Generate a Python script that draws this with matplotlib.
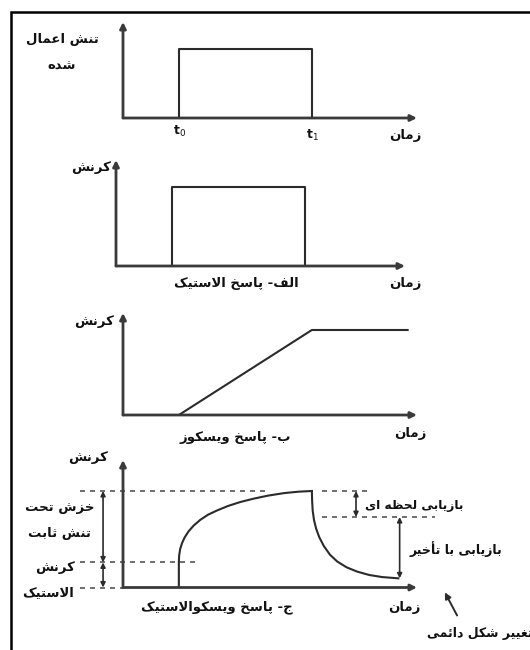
import matplotlib
matplotlib.use("Agg")
import matplotlib.pyplot as plt

# --- data (schematic units: time, normalised stress / strain) ---
t0, t1 = 2.1, 7.1
t_end = 10.7

stress_t = [t0, t0, t1, t1]
stress_v = [0, 1, 1, 0]

elastic_t = [t0, t0, t1, t1]
elastic_s = [0, 1, 1, 0]

viscous_t = [t0, t1, t_end]
viscous_s = [0, 1, 1]

# viscoelastic: creep while loaded, recovery after unloading
creep_t = [2.1, 2.1, 2.11, 2.15, 2.22, 2.32, 2.46, 2.65, 2.9, 3.2, 3.55,
           3.95, 4.4, 4.9, 5.45, 6.05, 6.6, 7.1]
creep_s = [0, 0.26, 0.33, 0.40, 0.46, 0.52, 0.58, 0.64, 0.70, 0.755, 0.80,
           0.845, 0.885, 0.92, 0.952, 0.978, 0.993, 1.0]
rec_t = [7.1, 7.11, 7.13, 7.18, 7.26, 7.38, 7.55, 7.78, 8.05, 8.4, 8.8,
         9.25, 9.75, 10.35]
rec_s = [1.0, 0.90, 0.80, 0.70, 0.61, 0.52, 0.43, 0.34, 0.27, 0.21, 0.165,
         0.13, 0.108, 0.095]

elastic_level = 0.26
peak_level = 1.0
recovered_level = 0.73
permanent_level = 0.095

# --- crude persian shaping (matplotlib has no complex text layout) ---
FORMS = {
    'ا': (0xFE8D, 0xFE8E, None, None),
    'أ': (0xFE83, 0xFE84, None, None),
    'ب': (0xFE8F, 0xFE90, 0xFE91, 0xFE92),
    'پ': (0xFB56, 0xFB57, 0xFB58, 0xFB59),
    'ت': (0xFE95, 0xFE96, 0xFE97, 0xFE98),
    'ث': (0xFE99, 0xFE9A, 0xFE9B, 0xFE9C),
    'ج': (0xFE9D, 0xFE9E, 0xFE9F, 0xFEA0),
    'ح': (0xFEA1, 0xFEA2, 0xFEA3, 0xFEA4),
    'خ': (0xFEA5, 0xFEA6, 0xFEA7, 0xFEA8),
    'د': (0xFEA9, 0xFEAA, None, None),
    'ر': (0xFEAD, 0xFEAE, None, None),
    'ز': (0xFEAF, 0xFEB0, None, None),
    'س': (0xFEB1, 0xFEB2, 0xFEB3, 0xFEB4),
    'ش': (0xFEB5, 0xFEB6, 0xFEB7, 0xFEB8),
    'ظ': (0xFEC5, 0xFEC6, 0xFEC7, 0xFEC8),
    'ع': (0xFEC9, 0xFECA, 0xFECB, 0xFECC),
    'غ': (0xFECD, 0xFECE, 0xFECF, 0xFED0),
    'ف': (0xFED1, 0xFED2, 0xFED3, 0xFED4),
    'ک': (0xFB8E, 0xFB8F, 0xFB90, 0xFB91),
    'ل': (0xFEDD, 0xFEDE, 0xFEDF, 0xFEE0),
    'م': (0xFEE1, 0xFEE2, 0xFEE3, 0xFEE4),
    'ن': (0xFEE5, 0xFEE6, 0xFEE7, 0xFEE8),
    'ه': (0xFEE9, 0xFEEA, 0xFEEB, 0xFEEC),
    'و': (0xFEED, 0xFEEE, None, None),
    'ی': (0xFBFC, 0xFBFD, 0xFBFE, 0xFBFF),
    'ئ': (0xFE89, 0xFE8A, 0xFE8B, 0xFE8C),
}
LAM_ALEF = {'ا': (0xFEFB, 0xFEFC), 'أ': (0xFEF7, 0xFEF8)}


def joins_fwd(c):
    return c in FORMS and FORMS[c][2] is not None


def fa(s):
    res = []
    i = 0
    while i < len(s):
        c = s[i]
        prev = s[i - 1] if i > 0 else None
        if c not in FORMS:
            res.append(c)
            i += 1
            continue
        if c == 'ل' and i + 1 < len(s) and s[i + 1] in LAM_ALEF:
            lig = LAM_ALEF[s[i + 1]]
            res.append(chr(lig[1] if joins_fwd(prev) else lig[0]))
            i += 2
            continue
        nxt = s[i + 1] if i + 1 < len(s) else None
        p = joins_fwd(prev)
        q = FORMS[c][2] is not None and nxt in FORMS
        iso, fin, ini, med = FORMS[c]
        g = med if (p and q) else fin if p else ini if q else iso
        res.append(chr(g))
        i += 1
    return ''.join(reversed(res))


W, H = 530, 650
PX = 26.6  # pixels per time unit
INK = '#2b2b2b'

fig = plt.figure(figsize=(5.3, 6.5), dpi=100)


def box(left, top, right, bottom):
    return [left / W, 1 - bottom / H, (right - left) / W, (bottom - top) / H]


def txt(x, y, s, size=9.5, ha='center', **kw):
    fig.text(x / W, 1 - y / H, s, ha=ha, va='center', fontsize=size,
             fontweight='bold', color='#111111', family='DejaVu Sans', **kw)


def arrow_axes(ax):
    x1, y1 = ax.get_xlim()[1], ax.get_ylim()[1]
    for end in [(x1, 0), (0, y1)]:
        ax.annotate('', xy=end, xytext=(0, 0), annotation_clip=False,
                    arrowprops=dict(arrowstyle='-|>', lw=2.0, color='#3a3a3a',
                                    mutation_scale=9, shrinkA=0, shrinkB=0))
    ax.set_axis_off()


def dbl(ax, x, ya, yb):
    ax.annotate('', xy=(x, yb), xytext=(x, ya), annotation_clip=False,
                arrowprops=dict(arrowstyle='<|-|>', lw=1.2, color=INK,
                                mutation_scale=7, shrinkA=0, shrinkB=0))


# (a) applied stress
ax1 = fig.add_axes(box(123, 22, 417, 118))
ax1.set_xlim(0, 294 / PX)
ax1.set_ylim(0, 96 / 69)
ax1.plot(stress_t, stress_v, color=INK, lw=1.5)
arrow_axes(ax1)

# (b) elastic
ax2 = fig.add_axes(box(116, 160, 405, 266))
ax2.set_xlim(0, 289 / PX)
ax2.set_ylim(0, 106 / 79)
ax2.plot(elastic_t, elastic_s, color=INK, lw=1.5)
arrow_axes(ax2)

# (c) viscous
ax3 = fig.add_axes(box(123, 313, 417, 415))
ax3.set_xlim(0, 294 / PX)
ax3.set_ylim(0, 102 / 85)
ax3.plot(viscous_t, viscous_s, color=INK, lw=1.5)
arrow_axes(ax3)

# (d) viscoelastic
ax4 = fig.add_axes(box(123, 460, 417, 587.5))
ax4.set_xlim(0, 294 / PX)
ax4.set_ylim(0, 127.5 / 96.5)
ax4.plot(creep_t, creep_s, color=INK, lw=1.5)
ax4.plot(rec_t, rec_s, color=INK, lw=1.5)
arrow_axes(ax4)

dash = dict(color='#555555', lw=1.2, ls=(0, (3, 3)), clip_on=False)
ax4.plot([-1.62, 5.35], [peak_level] * 2, **dash)
ax4.plot([7.48, 9.17], [peak_level] * 2, **dash)
ax4.plot([7.48, 11.73], [recovered_level] * 2, **dash)
ax4.plot([-1.62, 2.9], [elastic_level] * 2, **dash)
ax4.plot([-1.62, 0], [0, 0], **dash)

dbl(ax4, -0.75, 0, elastic_level)
dbl(ax4, -0.75, elastic_level, peak_level)
dbl(ax4, 8.76, recovered_level, peak_level)
dbl(ax4, 10.4, permanent_level, recovered_level)
ax4.annotate('', xy=(12.1, -0.05), xytext=(12.56, -0.29), annotation_clip=False,
             arrowprops=dict(arrowstyle='-|>', lw=1.4, color=INK,
                             mutation_scale=9, shrinkA=0, shrinkB=0))

# labels
txt(62, 40, fa('تنش اعمال'))
txt(62, 66, fa('شده'))
txt(180, 131, 't$_0$', size=9)
txt(312, 135, 't$_1$', size=9)
txt(405, 135, fa('زمان'))

txt(111, 167, fa('کرنش'), ha='right')
txt(236, 283, fa('الف- پاسخ الاستیک'))
txt(405, 283, fa('زمان'))

txt(94, 322, fa('کرنش'))
txt(235, 437, fa('ب- پاسخ ویسکوز'))
txt(410, 433, fa('زمان'))

txt(88, 457, fa('کرنش'))
txt(60, 507, fa('خزش تحت'))
txt(59, 534, fa('تنش ثابت'))
txt(55, 568, fa('کرنش'))
txt(48, 593, fa('الاستیک'))
txt(414, 506, fa('بازیابی لحظه ای'), size=8.8)
txt(456, 549, fa('بازیابی با تأخیر'), size=9)
txt(217, 607, fa('ج- پاسخ ویسکوالاستیک'))
txt(404, 607, fa('زمان'))
txt(427, 633, fa('تغییر شکل دائمی'), size=9, ha='left')

# outer frame (runs off the right and bottom edges)
fig.add_artist(plt.Rectangle((11 / W, -0.05), 1.0, 1 - 12 / H + 0.05, fill=False,
                             lw=1.8, edgecolor='black', transform=fig.transFigure))

fig.savefig('out.png', dpi=100, facecolor='white')
